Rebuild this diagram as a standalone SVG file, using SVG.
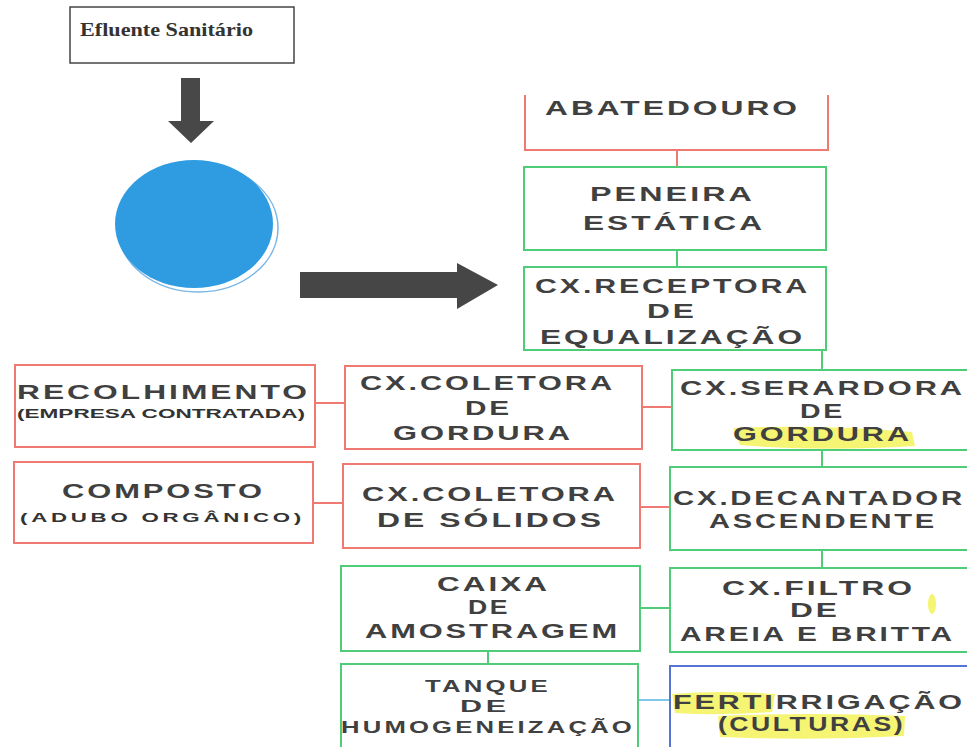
<svg xmlns="http://www.w3.org/2000/svg" width="967" height="747" viewBox="0 0 967 747">
<style>
.r{fill:#fff;stroke:#ee7a72;stroke-width:2}
.g{fill:#fff;stroke:#4fcc78;stroke-width:2}
.b{fill:#fff;stroke:#5574d6;stroke-width:2}
.t{font-family:"Liberation Sans",Arial,sans-serif;font-size:21px;font-weight:bold;fill:#404040;letter-spacing:2px}
.s{font-family:"Liberation Sans",Arial,sans-serif;font-size:12px;font-weight:bold;fill:#333}
.m{font-family:"Liberation Sans",Arial,sans-serif;font-size:16px;font-weight:bold;fill:#404040;letter-spacing:2px}
.cr{stroke:#ee7a72;stroke-width:2;fill:none}
.cg{stroke:#4fcc78;stroke-width:2;fill:none}
.cb{stroke:#7fc6ea;stroke-width:2;fill:none}
.hl{fill:#f4f25a;opacity:0.85}
</style>
<rect width="967" height="747" fill="#fff"/>
<g id="efluente">
<rect x="70" y="7" width="224" height="56" fill="#fff" stroke="#444" stroke-width="1.5"/>
<text x="80" y="36" font-family="Liberation Serif,serif" font-weight="bold" font-size="19" fill="#333" textLength="173" lengthAdjust="spacingAndGlyphs">Efluente Sanitário</text>
</g>
<g id="arrow-down">
<polygon points="181,78 200,78 200,121 214,121 191,143 168,121 181,121" fill="#484848"/>
</g>
<g id="circulo">
<ellipse cx="198" cy="228" rx="80" ry="64" fill="#fff" stroke="#7ab6e6" stroke-width="1.5"/>
<ellipse cx="194" cy="224" rx="79" ry="64" fill="#2f9ce2"/>
</g>
<g id="arrow-right">
<polygon points="300,272 457,272 457,263 498,285 457,309 457,298 300,298" fill="#464646"/>
</g>
<g id="connectors">
<line class="cr" x1="677" y1="150" x2="677" y2="167"/>
<line class="cg" x1="677" y1="250" x2="677" y2="267"/>
<line class="cg" x1="822" y1="350" x2="822" y2="370"/>
<line class="cr" x1="315" y1="403" x2="345" y2="403"/>
<line class="cr" x1="642" y1="407" x2="672" y2="407"/>
<line class="cg" x1="822" y1="450" x2="822" y2="467"/>
<line class="cr" x1="313" y1="503" x2="343" y2="503"/>
<line class="cr" x1="640" y1="507" x2="670" y2="507"/>
<line class="cg" x1="822" y1="550" x2="822" y2="568"/>
<line class="cg" x1="640" y1="608" x2="670" y2="608"/>
<line class="cg" x1="488" y1="651" x2="488" y2="665"/>
<line class="cb" x1="638" y1="700" x2="670" y2="700"/>
</g>
<g id="abatedouro">
<path d="M525,95 V150 H828 V95" class="r"/>
<text class="t" x="545" y="115" textLength="255" lengthAdjust="spacingAndGlyphs">ABATEDOURO</text>
</g>
<g id="peneira">
<rect class="g" x="524" y="167" width="302" height="83"/>
<text class="t" x="590" y="201" textLength="165" lengthAdjust="spacingAndGlyphs">PENEIRA</text>
<text class="t" x="583" y="230" textLength="182" lengthAdjust="spacingAndGlyphs">ESTÁTICA</text>
</g>
<g id="receptora">
<rect class="g" x="524" y="267" width="302" height="83"/>
<text class="t" x="535" y="293" textLength="275" lengthAdjust="spacingAndGlyphs">CX.RECEPTORA</text>
<text class="t" x="647" y="318" textLength="50" lengthAdjust="spacingAndGlyphs">DE</text>
<text class="t" x="540" y="344" textLength="265" lengthAdjust="spacingAndGlyphs">EQUALIZAÇÃO</text>
</g>
<g id="recolhimento">
<rect class="r" x="15" y="365" width="300" height="82"/>
<text class="t" x="17" y="399" font-size="23" textLength="293" lengthAdjust="spacingAndGlyphs">RECOLHIMENTO</text>
<text class="s" x="17" y="418" textLength="288" lengthAdjust="spacingAndGlyphs">(EMPRESA CONTRATADA)</text>
</g>
<g id="coletora-gordura">
<rect class="r" x="345" y="366" width="297" height="83"/>
<text class="t" x="360" y="390" textLength="255" lengthAdjust="spacingAndGlyphs">CX.COLETORA</text>
<text class="t" x="465" y="415" textLength="47" lengthAdjust="spacingAndGlyphs">DE</text>
<text class="t" x="393" y="440" textLength="180" lengthAdjust="spacingAndGlyphs">GORDURA</text>
</g>
<g id="separadora">
<rect class="g" x="672" y="370" width="300" height="80"/>
<path class="hl" d="M733,428 Q820,424 912,432 L915,446 Q820,452 740,445 Z"/>
<text class="t" x="680" y="395" textLength="285" lengthAdjust="spacingAndGlyphs">CX.SERARDORA</text>
<text class="t" x="800" y="418" textLength="45" lengthAdjust="spacingAndGlyphs">DE</text>
<text class="t" x="733" y="441" textLength="179" lengthAdjust="spacingAndGlyphs">GORDURA</text>
</g>
<g id="composto">
<rect class="r" x="14" y="462" width="299" height="81"/>
<text class="t" x="62" y="498" textLength="203" lengthAdjust="spacingAndGlyphs">COMPOSTO</text>
<text class="s" x="20" y="522" font-size="13" letter-spacing="2" textLength="285" lengthAdjust="spacingAndGlyphs">(ADUBO ORGÂNICO)</text>
</g>
<g id="coletora-solidos">
<rect class="r" x="343" y="464" width="297" height="84"/>
<text class="t" x="362" y="501" textLength="256" lengthAdjust="spacingAndGlyphs">CX.COLETORA</text>
<text class="t" x="377" y="527" textLength="227" lengthAdjust="spacingAndGlyphs">DE SÓLIDOS</text>
</g>
<g id="decantador">
<rect class="g" x="670" y="467" width="302" height="83"/>
<text class="t" x="673" y="505" textLength="292" lengthAdjust="spacingAndGlyphs">CX.DECANTADOR</text>
<text class="t" x="709" y="528" textLength="228" lengthAdjust="spacingAndGlyphs">ASCENDENTE</text>
</g>
<g id="amostragem">
<rect class="g" x="341" y="566" width="299" height="85"/>
<text class="t" x="437" y="591" textLength="113" lengthAdjust="spacingAndGlyphs">CAIXA</text>
<text class="t" x="468" y="614" textLength="42" lengthAdjust="spacingAndGlyphs">DE</text>
<text class="t" x="365" y="638" textLength="255" lengthAdjust="spacingAndGlyphs">AMOSTRAGEM</text>
</g>
<g id="filtro">
<rect class="g" x="670" y="568" width="302" height="84"/>
<text class="t" x="722" y="595" textLength="193" lengthAdjust="spacingAndGlyphs">CX.FILTRO</text>
<text class="t" x="790" y="617" textLength="50" lengthAdjust="spacingAndGlyphs">DE</text>
<text class="t" x="680" y="641" textLength="275" lengthAdjust="spacingAndGlyphs">AREIA E BRITTA</text>
<ellipse cx="932" cy="604" rx="4" ry="10" class="hl"/>
</g>
<g id="tanque">
<rect class="g" x="341" y="664" width="297" height="90"/>
<text class="m" x="425" y="692" textLength="126" lengthAdjust="spacingAndGlyphs">TANQUE</text>
<text class="m" x="460" y="712" textLength="50" lengthAdjust="spacingAndGlyphs">DE</text>
<text class="m" x="341" y="733" textLength="294" lengthAdjust="spacingAndGlyphs">HUMOGENEIZAÇÃO</text>
</g>
<g id="fertirrigacao">
<rect class="b" x="670" y="666" width="302" height="90"/>
<path class="hl" d="M672,694 Q720,690 775,694 L772,712 Q720,716 675,713 Z"/>
<path class="hl" d="M718,716 Q810,712 905,716 L904,736 Q810,741 720,737 Z"/>
<text class="t" x="673" y="709" textLength="292" lengthAdjust="spacingAndGlyphs">FERTIRRIGAÇÃO</text>
<text class="t" x="718" y="731" textLength="187" lengthAdjust="spacingAndGlyphs">(CULTURAS)</text>
</g>
</svg>
